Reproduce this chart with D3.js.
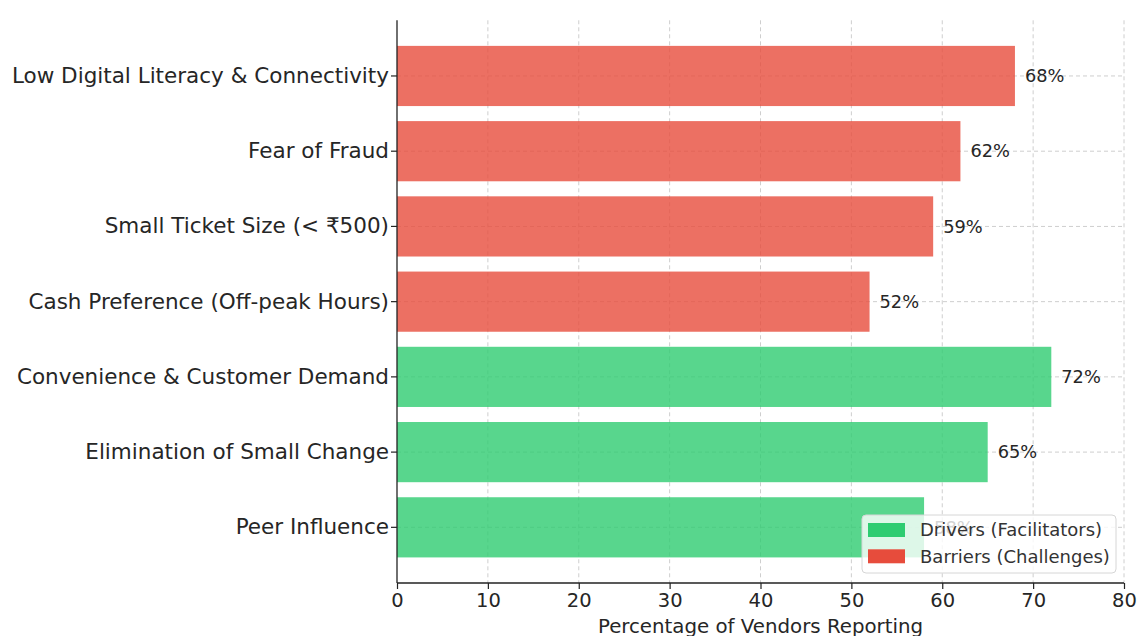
<!DOCTYPE html>
<html>
<head>
<meta charset="utf-8">
<script src="https://cdn.jsdelivr.net/npm/d3@7"></script>
<style>
  html, body { margin: 0; padding: 0; background: #fff; }
  svg { display: block; font-family: "DejaVu Sans", sans-serif; }
</style>
</head>
<body>
<svg id="chart" width="1137" height="636"></svg>
<script>
// Factors influencing digital payment adoption, top to bottom
const categories = [
  "Low Digital Literacy & Connectivity",
  "Fear of Fraud",
  "Small Ticket Size (< ₹500)",
  "Cash Preference (Off-peak Hours)",
  "Convenience & Customer Demand",
  "Elimination of Small Change",
  "Peer Influence"
];
const values = [68, 62, 59, 52, 72, 65, 58];
const groups = ["Barriers", "Barriers", "Barriers", "Barriers", "Drivers", "Drivers", "Drivers"];
const xTicks = [0, 10, 20, 30, 40, 50, 60, 70, 80];
const legendItems = [
  { key: "Drivers", label: "Drivers (Facilitators)" },
  { key: "Barriers", label: "Barriers (Challenges)" }
];

const colors = { Drivers: "#2ecc71", Barriers: "#e74c3c" };
const textColor = "#262626";

const svg = d3.select("#chart");
const plotLeft = 397, plotRight = 1124, plotTop = 20.3, plotBottom = 583;

const x = d3.scaleLinear().domain([0, 80]).range([plotLeft, plotRight]);
const y = d3.scaleBand().domain(categories).range([plotTop, plotBottom])
  .paddingInner(0.2).paddingOuter(0.34);

// Dashed grid lines
const grid = svg.append("g").attr("stroke", "#c8c8c8").attr("stroke-width", 0.9)
  .attr("stroke-dasharray", "4,3");
grid.selectAll("line.vx").data(xTicks.slice(1)).join("line")
  .attr("x1", d => x(d)).attr("x2", d => x(d))
  .attr("y1", plotTop).attr("y2", plotBottom);
grid.selectAll("line.hy").data(categories).join("line")
  .attr("x1", plotLeft).attr("x2", plotRight)
  .attr("y1", d => y(d) + y.bandwidth() / 2).attr("y2", d => y(d) + y.bandwidth() / 2);

// Bars
const data = categories.map((c, i) => ({ cat: c, value: values[i], group: groups[i] }));
svg.append("g").selectAll("rect").data(data).join("rect")
  .attr("x", x(0))
  .attr("y", d => y(d.cat))
  .attr("width", d => x(d.value) - x(0))
  .attr("height", y.bandwidth())
  .attr("fill", d => colors[d.group])
  .attr("fill-opacity", 0.8);

// Value labels
svg.append("g").selectAll("text").data(data).join("text")
  .attr("x", d => x(d.value) + 10)
  .attr("y", d => y(d.cat) + y.bandwidth() / 2)
  .attr("dy", "0.35em")
  .attr("font-size", 17.8)
  .attr("fill", textColor)
  .text(d => d.value + "%");

// Axes
const xAxis = svg.append("g").attr("transform", `translate(0,${plotBottom})`)
  .call(d3.axisBottom(x).tickValues(xTicks).tickSize(6).tickPadding(4));
const yAxis = svg.append("g").attr("transform", `translate(${plotLeft},0)`)
  .call(d3.axisLeft(y).tickSize(6).tickPadding(2));
[xAxis, yAxis].forEach(a => {
  a.select(".domain").attr("stroke", "#222").attr("stroke-width", 1.3);
  a.selectAll(".tick line").attr("stroke", "#222").attr("stroke-width", 1.2);
  a.selectAll(".tick text").attr("fill", textColor)
    .attr("font-family", "DejaVu Sans, sans-serif");
});
xAxis.selectAll(".tick text").attr("font-size", 19.5);
yAxis.selectAll(".tick text").attr("font-size", 21.5);
xAxis.select(".domain").attr("d", `M${plotLeft},0H${plotRight}`);
yAxis.select(".domain").attr("d", `M0,${plotTop}V${plotBottom}`);

// Axis title
svg.append("text")
  .attr("x", (plotLeft + plotRight) / 2).attr("y", 633)
  .attr("text-anchor", "middle")
  .attr("font-size", 19.8)
  .attr("fill", textColor)
  .text("Percentage of Vendors Reporting");

// Legend
const lg = svg.append("g").attr("transform", "translate(862,515)");
lg.append("rect").attr("width", 254).attr("height", 58).attr("rx", 4)
  .attr("fill", "#fff").attr("fill-opacity", 0.8)
  .attr("stroke", "#d6d6d6").attr("stroke-width", 1);
legendItems.forEach((it, i) => {
  const row = lg.append("g").attr("transform", `translate(0,${15 + i * 26.3})`);
  row.append("rect").attr("x", 6).attr("y", -7).attr("width", 37).attr("height", 14)
    .attr("fill", colors[it.key]);
  row.append("text").attr("x", 58).attr("y", 0).attr("dy", "0.35em")
    .attr("font-size", 18).attr("fill", "#333").text(it.label);
});
</script>
</body>
</html>
